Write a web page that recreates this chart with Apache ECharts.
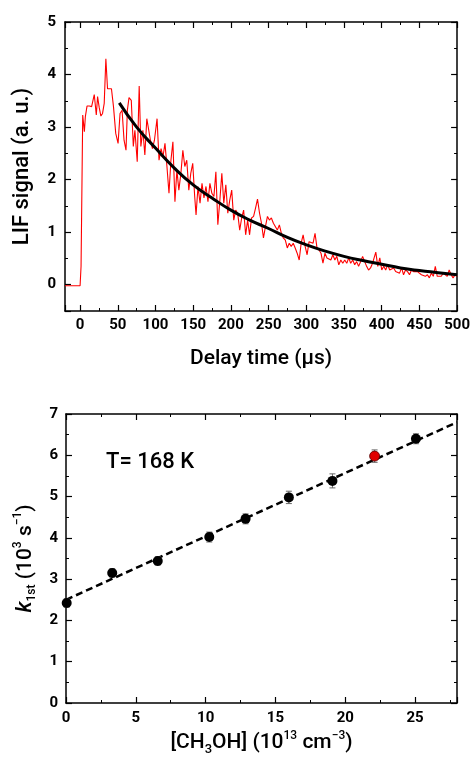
<!DOCTYPE html>
<html>
<head>
<meta charset="utf-8">
<script src="https://cdn.jsdelivr.net/npm/echarts@6/dist/echarts.min.js"></script>
<style>
html,body{margin:0;padding:0;background:#fff;}
#c{width:473px;height:762px;}
</style>
</head>
<body>
<div id="c"></div>
<script>
// ---- Top panel: LIF decay trace ----
var traceT = [-20,-10,0,1.3,3.5,5.7,7,9.2,12.3,15.3,18.8,21.5,23.2,25.4,27.6,29.8,32,34.2,36.4,39,41.6,44.3,47.3,50.4,53,55.7,58.3,60.9,62.7,64.9,67.9,70.6,72.7,75.8,78.4,80.6,83.3,85.9,88.5,91.1,93.3,96,98.6,102.1,104.7,107.4,110,112.6,115.2,117.9,120.5,123.1,125.8,128.4,131,133.7,136.3,138.9,141.5,144.2,146.8,149.4,152,153.8,156.4,159.1,161.7,164.3,167,169.6,172.2,174.8,177.5,180.1,182.7,185.4,188,190.6,193.3,195.9,198.5,201.1,203.8,206.4,209,211.7,214.3,216.9,219.6,222.2,224.8,227.4,230.1,232.7,235.3,238,240.6,243.2,245.9,248.5,251.1,253.7,256.4,259,261.6,264.3,266.9,269.5,272.2,274.8,277.4,280,282.7,285.3,287.9,290.6,293.2,295.8,298.5,301.1,303.7,306.3,309,311.6,314.2,316.9,319.5,322.1,324.8,327.4,330,332.6,335.2,337.9,340.5,343.1,345.8,348.4,351,353.7,356.3,358.9,361.6,364.2,366.8,369.4,372.1,374.7,377.3,380,382.6,385.2,387.9,390.5,392.2,394.8,397.5,400.1,402.7,405.3,408,410.6,413.2,415.9,418.5,421.1,423.7,426.4,429,431.6,434.3,436.9,439.5,442.2,444.8,447.4,450,452.7,455.3,457.9,460.6,463.2,465.8,468.5,471.1,473.7,476.3,479,481.6,484.2,486.9,489.5,492.1,494.7,497.4,500];
var traceY = [-0.02,-0.02,-0.02,0.35,3.23,2.91,3.2,3.4,3.4,3.39,3.62,3.23,3.58,3.37,3.21,3.26,3.45,4.30,3.73,3.75,3.73,3.39,2.88,2.69,3.26,3.32,2.75,2.56,3.32,3.56,3.51,2.63,2.94,2.34,3.78,2.63,2.94,2.47,3.16,3.13,2.75,2.59,2.75,3.16,2.37,2.59,2.44,2.69,2.25,1.74,2.37,2.72,1.58,2.18,1.80,2.12,2.56,2.25,2.37,1.80,2.12,2.31,1.68,1.33,1.87,1.55,1.93,1.65,1.87,1.58,1.93,1.74,1.68,2.15,1.14,1.61,2.12,1.55,1.90,1.36,1.61,1.80,1.23,1.42,1.36,1.04,1.27,1.42,0.95,1.23,0.95,1.27,1.30,1.46,1.63,1.36,1.17,0.89,1.11,1.30,1.23,1.27,1.17,1.20,1.04,1.14,0.98,0.89,0.85,0.70,0.79,0.73,0.79,0.70,0.60,0.47,0.79,0.95,0.73,0.57,0.82,0.82,0.79,0.98,0.70,0.66,0.60,0.41,0.60,0.51,0.54,0.47,0.57,0.47,0.54,0.38,0.47,0.41,0.47,0.41,0.51,0.41,0.47,0.38,0.44,0.35,0.44,0.54,0.51,0.35,0.28,0.32,0.41,0.38,0.62,0.35,0.51,0.28,0.35,0.28,0.38,0.28,0.25,0.32,0.25,0.28,0.22,0.32,0.19,0.28,0.25,0.19,0.28,0.25,0.22,0.25,0.28,0.19,0.22,0.16,0.19,0.13,0.22,0.16,0.35,0.16,0.19,0.16,0.22,0.19,0.16,0.28,0.19,0.13,0.19,0.16];
var fitT = [52,75,100,125,150,175,200,225,250,275,300,325,350,375,400,425,450,475,500];
var fitY = [3.46,3.0,2.6,2.22,1.9,1.65,1.42,1.23,1.07,0.9,0.76,0.64,0.54,0.46,0.39,0.32,0.27,0.23,0.19];

// ---- Bottom panel: k1st vs [CH3OH] ----
var concX = [0.05,3.31,6.57,10.26,12.86,15.96,19.08,25.06];
var kVals = [2.42,3.15,3.44,4.02,4.46,4.98,5.38,6.40];
var kErr  = [0.10,0.10,0.10,0.12,0.12,0.15,0.17,0.12];
var redX = [22.1];
var redY = [5.98];
var redErr = [0.15];
var lineX = [0, 28];
var lineY = [2.5, 6.8];
var tempLabel = 'T= 168 K';

function zip(a, b) { return a.map(function (v, i) { return [v, b[i]]; }); }
function zip3(a, b, c) { return a.map(function (v, i) { return [v, b[i], c[i]]; }); }

var FONT = 'Roboto';
var lbl = { color: '#000', fontFamily: FONT, fontWeight: 'bold', fontSize: 15 };
var lineSty = { show: true, onZero: false, lineStyle: { color: '#000', width: 1.5 } };
var tickSty = { show: true, inside: true, length: 6, lineStyle: { color: '#000', width: 1.2 } };
var minorSty = { show: true, splitNumber: 2, length: 3, lineStyle: { color: '#000', width: 1 } };

function axisBase(extra) {
  var o = {
    type: 'value', axisLine: lineSty, axisTick: tickSty, minorTick: minorSty,
    splitLine: { show: false }, minorSplitLine: { show: false }
  };
  for (var k in extra) o[k] = extra[k];
  return o;
}

var chart = echarts.init(document.getElementById('c'), null, { renderer: 'canvas' });

var errRender = function (params, api) {
  var x = api.value(0), y = api.value(1), e = api.value(2);
  var top = api.coord([x, y + e]);
  var bot = api.coord([x, y - e]);
  var hw = 3;
  var st = { stroke: '#666', lineWidth: 1 };
  return {
    type: 'group',
    children: [
      { type: 'line', shape: { x1: top[0], y1: top[1], x2: bot[0], y2: bot[1] }, style: st },
      { type: 'line', shape: { x1: top[0] - hw, y1: top[1], x2: top[0] + hw, y2: top[1] }, style: st },
      { type: 'line', shape: { x1: bot[0] - hw, y1: bot[1], x2: bot[0] + hw, y2: bot[1] }, style: st }
    ]
  };
};

var option = {
  backgroundColor: '#fff',
  animation: false,
  grid: [
    { left: 65, top: 22, width: 394, height: 289, containLabel: false },
    { left: 66, top: 414, width: 391, height: 289, containLabel: false }
  ],
  xAxis: [
    axisBase({
      gridIndex: 0, position: 'bottom', min: -20, max: 500, splitNumber: 10, minInterval: 50, maxInterval: 50,
      axisLabel: Object.assign({ margin: 7, showMinLabel: false }, lbl),
      name: 'Delay time (\u00b5s)', nameLocation: 'middle', nameGap: 37,
      nameTextStyle: { fontFamily: FONT, fontSize: 21, fontWeight: 500, color: '#000' }
    }),
    axisBase({
      gridIndex: 0, position: 'top', min: -20, max: 500, splitNumber: 10, minInterval: 50, maxInterval: 50,
      axisLabel: { show: false }
    }),
    axisBase({
      gridIndex: 1, position: 'bottom', min: 0, max: 28, interval: 5,
      axisLabel: Object.assign({ margin: 8, showMaxLabel: false }, lbl),
      name: '[CH{sub|3}OH] (10{sup|13} cm{sup|\u22123})', nameLocation: 'middle', nameGap: 27,
      nameTextStyle: {
        fontFamily: FONT, fontSize: 21, fontWeight: 500, color: '#000', lineHeight: 26,
        rich: {
          sub: { fontFamily: FONT, fontSize: 13, fontWeight: 500, color: '#000', verticalAlign: 'bottom', lineHeight: 26, padding: [9, 0, 0, 0] },
          sup: { fontFamily: FONT, fontSize: 12, fontWeight: 500, color: '#000', verticalAlign: 'top', lineHeight: 26, padding: [0, 0, 10, 0] }
        }
      }
    }),
    axisBase({
      gridIndex: 1, position: 'top', min: 0, max: 28, interval: 5,
      axisLabel: { show: false }
    })
  ],
  yAxis: [
    axisBase({
      gridIndex: 0, position: 'left', min: -0.5, max: 5, splitNumber: 6, minInterval: 1, maxInterval: 1,
      axisLabel: Object.assign({ margin: 9, showMinLabel: false }, lbl),
      name: 'LIF signal (a. u.)', nameLocation: 'middle', nameGap: 32, nameRotate: 90,
      nameTextStyle: { fontFamily: FONT, fontSize: 22, fontWeight: 500, color: '#000' }
    }),
    axisBase({
      gridIndex: 0, position: 'right', min: -0.5, max: 5, splitNumber: 6, minInterval: 1, maxInterval: 1,
      axisLabel: { show: false }
    }),
    axisBase({
      gridIndex: 1, position: 'left', min: 0, max: 7, interval: 1,
      axisLabel: Object.assign({ margin: 8 }, lbl),
      name: '{k|k}{sub|1st} (10{sup|3} s{sup|\u22121})', nameLocation: 'middle', nameGap: 26, nameRotate: 90,
      nameTextStyle: {
        fontFamily: FONT, fontSize: 21, fontWeight: 500, color: '#000', lineHeight: 26,
        rich: {
          k: { fontFamily: FONT, fontSize: 22, fontStyle: 'italic', fontWeight: 500, color: '#000', lineHeight: 26 },
          sub: { fontFamily: FONT, fontSize: 12, fontWeight: 500, color: '#000', verticalAlign: 'bottom', lineHeight: 26, padding: [8, 0, 0, 0] },
          sup: { fontFamily: FONT, fontSize: 12, fontWeight: 500, color: '#000', verticalAlign: 'top', lineHeight: 26, padding: [0, 0, 10, 0] }
        }
      }
    }),
    axisBase({
      gridIndex: 1, position: 'right', min: 0, max: 7, interval: 1,
      axisLabel: { show: false }
    })
  ],
  graphic: [
    {
      type: 'text', left: 106, top: 451,
      style: { text: tempLabel, fontFamily: FONT, fontSize: 22, fontWeight: 500, fill: '#000' }
    }
  ],
  series: [
    {
      type: 'line', xAxisIndex: 0, yAxisIndex: 0, data: zip(traceT, traceY),
      showSymbol: false, symbol: 'none', lineStyle: { color: '#ff0000', width: 1.1 }, z: 2
    },
    {
      type: 'line', xAxisIndex: 0, yAxisIndex: 0, data: zip(fitT, fitY), smooth: true,
      showSymbol: false, symbol: 'none', lineStyle: { color: '#000', width: 3 }, z: 3
    },
    {
      type: 'line', xAxisIndex: 2, yAxisIndex: 2, data: zip(lineX, lineY),
      showSymbol: false, symbol: 'none', lineStyle: { color: '#000', width: 2.5, type: [7, 4] }, z: 2
    },
    {
      type: 'custom', xAxisIndex: 2, yAxisIndex: 2, data: zip3(concX, kVals, kErr),
      renderItem: errRender, encode: { x: 0, y: 1 }, z: 3
    },
    {
      type: 'custom', xAxisIndex: 2, yAxisIndex: 2, data: zip3(redX, redY, redErr),
      renderItem: errRender, encode: { x: 0, y: 1 }, z: 3
    },
    {
      type: 'scatter', xAxisIndex: 2, yAxisIndex: 2, data: zip(concX, kVals),
      symbol: 'circle', symbolSize: 10, itemStyle: { color: '#000', opacity: 1 }, z: 4
    },
    {
      type: 'scatter', xAxisIndex: 2, yAxisIndex: 2, data: zip(redX, redY),
      symbol: 'circle', symbolSize: 10, itemStyle: { color: '#e00000', borderColor: '#500', borderWidth: 0.8, opacity: 1 }, z: 4
    }
  ]
};
chart.setOption(option);
</script>
</body>
</html>
